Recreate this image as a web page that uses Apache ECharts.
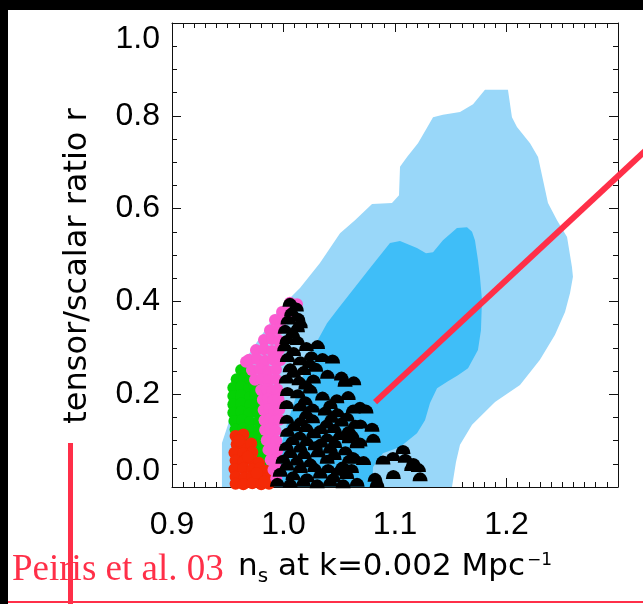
<!DOCTYPE html>
<html>
<head>
<meta charset="utf-8">
<script src="https://cdn.jsdelivr.net/npm/echarts@6/dist/echarts.min.js"></script>
<style>
  html, body { margin: 0; padding: 0; background: #fff; }
  #chart { width: 643px; height: 604px; }
</style>
</head>
<body>
<div id="chart"></div>
<script>
// ---- data ----
const xTickLabels = ['0.9', '1.0', '1.1', '1.2'];
const yTickLabels = ['0.0', '0.2', '0.4', '0.6', '0.8', '1.0'];

// 95% region (light blue)
const outer95 = [
  [0.9448, 0.000], [0.9448, 0.095], [0.9502, 0.134], [0.9547, 0.188], [0.9592, 0.241],
  [0.9655, 0.274], [0.9744, 0.306], [0.9834, 0.338], [0.9924, 0.371], [1.0040, 0.403],
  [1.0148, 0.429], [1.0327, 0.483], [1.0507, 0.547], [1.0641, 0.575], [1.0794, 0.610],
  [1.0973, 0.612], [1.1036, 0.629], [1.1045, 0.690], [1.1108, 0.711], [1.1206, 0.741],
  [1.1287, 0.774], [1.1341, 0.797], [1.1430, 0.802], [1.1583, 0.808], [1.1700, 0.825],
  [1.1807, 0.856], [1.2013, 0.856], [1.2049, 0.797], [1.2094, 0.776], [1.2211, 0.741],
  [1.2283, 0.711], [1.2327, 0.662], [1.2372, 0.612], [1.2453, 0.575], [1.2543, 0.539],
  [1.2587, 0.474], [1.2596, 0.453], [1.2570, 0.418], [1.2525, 0.377], [1.2435, 0.328],
  [1.2300, 0.274], [1.2121, 0.220], [1.1897, 0.183], [1.1691, 0.134], [1.1583, 0.091],
  [1.1547, 0.054], [1.1511, 0.000]
];

// 68% region (darker blue)
const inner68 = [
  [0.9924, 0.000], [0.9951, 0.058], [1.0013, 0.123], [1.0103, 0.188], [1.0193, 0.252],
  [1.0283, 0.306], [1.0390, 0.353], [1.0489, 0.384], [1.0623, 0.425], [1.0776, 0.472],
  [1.0955, 0.526], [1.1045, 0.530], [1.1197, 0.515], [1.1278, 0.504], [1.1341, 0.506],
  [1.1430, 0.532], [1.1556, 0.558], [1.1646, 0.560], [1.1691, 0.550], [1.1717, 0.532],
  [1.1744, 0.489], [1.1762, 0.453], [1.1780, 0.403], [1.1771, 0.338], [1.1744, 0.295],
  [1.1655, 0.256], [1.1565, 0.241], [1.1475, 0.228], [1.1377, 0.213], [1.1314, 0.181],
  [1.1269, 0.144], [1.1197, 0.116], [1.1045, 0.086], [1.0892, 0.073], [1.0803, 0.043],
  [1.0794, 0.000]
];

const redPts = [
  [0.957,0.110],[0.964,0.113],[0.958,0.092],[0.965,0.089],[0.971,0.094],[0.956,0.074],
  [0.964,0.072],[0.972,0.075],[0.957,0.057],[0.964,0.055],[0.972,0.058],[0.978,0.052],
  [0.956,0.039],[0.964,0.040],[0.972,0.038],[0.979,0.041],[0.984,0.035],[0.957,0.022],
  [0.965,0.020],[0.972,0.023],[0.979,0.021],[0.986,0.019],[0.957,0.007],[0.964,0.006],
  [0.972,0.008],[0.980,0.006],[0.987,0.007],[0.960,0.100],[0.968,0.065],[0.976,0.030],
  [0.983,0.012]
];

const greenPts = [
  [0.962,0.252],[0.967,0.248],
  [0.958,0.232],[0.965,0.234],[0.970,0.230],
  [0.955,0.214],[0.962,0.216],[0.969,0.212],[0.974,0.218],
  [0.955,0.196],[0.962,0.198],[0.970,0.194],[0.975,0.200],
  [0.955,0.178],[0.962,0.180],[0.970,0.176],[0.976,0.179],
  [0.955,0.160],[0.962,0.162],[0.969,0.158],[0.977,0.161],
  [0.956,0.142],[0.963,0.144],[0.970,0.140],[0.978,0.143],
  [0.957,0.124],[0.964,0.126],[0.971,0.122],[0.978,0.125],
  [0.969,0.106],[0.975,0.108],[0.981,0.104],
  [0.975,0.088],[0.982,0.090],
  [0.980,0.070],[0.986,0.072],
  [0.985,0.052],[0.989,0.054],
  [0.988,0.034],[0.992,0.036],
  [0.991,0.016]
];

const pinkPts = [
  [1.0058,0.397],[1.0121,0.394],
  [0.9987,0.377],[1.0058,0.379],
  [0.9924,0.360],[0.9996,0.362],
  [0.9879,0.338],[0.9951,0.340],
  [0.9825,0.317],[0.9897,0.319],[0.9960,0.315],
  [0.9753,0.295],[0.9825,0.297],[0.9897,0.293],[0.9960,0.296],
  [0.9664,0.270],[0.9691,0.274],[0.9762,0.276],[0.9834,0.272],[0.9906,0.275],[0.9969,0.273],
  [0.9717,0.252],[0.9789,0.254],[0.9861,0.250],[0.9933,0.253],
  [0.9745,0.231],[0.9805,0.233],[0.9866,0.229],[0.9933,0.232],
  [0.9800,0.209],[0.9850,0.211],[0.9900,0.207],[0.9945,0.210],
  [0.9815,0.188],[0.9860,0.190],[0.9905,0.186],[0.9955,0.189],
  [0.9822,0.166],[0.9870,0.168],[0.9915,0.164],[0.9962,0.167],
  [0.9830,0.144],[0.9875,0.146],[0.9920,0.142],[0.9962,0.145],
  [0.9835,0.123],[0.9880,0.125],[0.9928,0.121],
  [0.9850,0.101],[0.9895,0.103],[0.9936,0.099],
  [0.9865,0.080],[0.9905,0.082],[0.9944,0.078],
  [0.9885,0.058],[0.9935,0.060],
  [0.9910,0.037],[0.9944,0.039],
  [0.9935,0.019]
];

const blackPts = [
  [1.0058,0.398],[1.0115,0.388],[1.0072,0.377],[1.0130,0.366],[1.0040,0.360],[1.0150,0.352],
  [1.0015,0.340],[1.0082,0.330],[1.0030,0.318],[1.0125,0.316],[1.0010,0.302],[1.0090,0.292],
  [1.0205,0.303],[1.0305,0.307],[1.0035,0.279],[1.0150,0.272],[1.0250,0.283],[1.0350,0.279],
  [1.0440,0.276],[1.0060,0.257],[1.0180,0.251],[1.0290,0.258],[1.0395,0.243],[1.0520,0.239],
  [1.0630,0.229],[1.0025,0.233],[1.0140,0.229],[1.0268,0.233],[1.0035,0.206],[1.0128,0.201],
  [1.0240,0.211],[1.0350,0.196],[1.0478,0.190],[1.0580,0.197],[1.0028,0.178],[1.0150,0.173],
  [1.0262,0.170],[1.0375,0.164],[1.0484,0.160],[1.0625,0.168],[1.0030,0.146],[1.0152,0.141],
  [1.0260,0.147],[1.0388,0.136],[1.0520,0.140],[1.0644,0.135],[1.0035,0.118],[1.0145,0.110],
  [1.0270,0.115],[1.0392,0.106],[1.0505,0.111],[1.0025,0.088],[1.0150,0.084],[1.0285,0.089],
  [1.0420,0.082],[1.0555,0.078],[1.0660,0.093],[0.9995,0.060],[1.0120,0.056],[1.0240,0.052],
  [1.0392,0.060],[1.0528,0.045],[1.0640,0.061],[0.9970,0.032],[1.0085,0.024],[1.0210,0.020],
  [1.0330,0.028],[1.0445,0.020],[1.0568,0.027],[0.9945,0.010],[1.0060,0.008],[1.0178,0.010],
  [1.0302,0.007],[1.0418,0.010],[1.0535,0.007],[1.0660,0.010],
  [1.0080,0.100],[1.0210,0.098],[1.0335,0.095],[1.0460,0.094],[1.0590,0.104],[1.0060,0.072],
  [1.0185,0.070],[1.0310,0.074],[1.0455,0.068],[1.0590,0.060],[1.0030,0.045],[1.0150,0.040],
  [1.0280,0.042],[1.0400,0.040],[1.0490,0.034],[1.0610,0.040],[1.0095,0.130],[1.0205,0.128],
  [1.0330,0.124],[1.0455,0.126],[1.0585,0.122],
  [1.0205,0.156],[1.0430,0.148],[1.0195,0.186],[1.0420,0.178],[1.0200,0.220],[1.0090,0.245],
  [1.0235,0.266],[1.0125,0.343],
  [1.0552,0.226],[1.0686,0.174],[1.0740,0.168],[1.0570,0.151],[1.0690,0.136],[1.0794,0.129],
  [1.0614,0.113],[1.0686,0.097],[1.0805,0.105],[1.0623,0.066],[1.0718,0.057],[1.0552,0.041],
  [1.0892,0.058],[1.0982,0.066],[1.1072,0.081],[1.1092,0.062],[1.1165,0.053],[1.1210,0.042],
  [1.1150,0.044],[1.1225,0.022],[1.0985,0.027],[1.0821,0.021],[1.0839,0.008]
];

// pointer line drawn from the plot towards the annotation
const peirisLine = [[1.0821, 0.183], [1.335, 0.748]];

// ---- chart ----
const RED = '#ff2f48';
const chart = echarts.init(document.getElementById('chart'), null, { renderer: 'canvas' });

function polygonSeries(pts, color) {
  return {
    type: 'custom',
    data: pts,
    encode: { x: 0, y: 1 },
    silent: true,
    clip: true,
    renderItem: function (params, api) {
      if (params.dataIndex !== 0) return null;
      return {
        type: 'polygon',
        shape: { points: pts.map(p => api.coord(p)) },
        style: { fill: color, stroke: null }
      };
    }
  };
}

const axisCommon = {
  type: 'value',
  axisLine: { show: true, onZero: false, lineStyle: { color: '#111', width: 1 } },
  axisTick: { show: true, inside: true, length: 9, lineStyle: { color: '#111', width: 1 } },
  minorTick: { show: true, length: 5, lineStyle: { color: '#111', width: 1 } },
  splitLine: { show: false },
  minorSplitLine: { show: false }
};

const option = {
  animation: false,
  backgroundColor: '#fff',
  grid: { left: 172, top: 23, width: 446, height: 464, outerBoundsMode: 'none', containLabel: false },
  xAxis: [
    Object.assign({}, axisCommon, {
      position: 'bottom', min: 0.9, max: 1.3, interval: 0.1,
      minorTick: Object.assign({}, axisCommon.minorTick, { splitNumber: 10 }),
      axisLabel: {
        show: true, margin: 22, color: '#000', fontFamily: 'Liberation Sans', fontSize: 32,
        showMinLabel: true, showMaxLabel: false,
        formatter: v => { const s = v.toFixed(1); return xTickLabels.indexOf(s) >= 0 ? s : ''; }
      },
      name: '{n|n}{s|s}{n| at k=0.002 Mpc}{p|\u22121}',
      nameLocation: 'middle',
      nameGap: 60,
      nameTextStyle: {
        color: '#000',
        rich: {
          n: { fontFamily: 'DejaVu Sans', fontSize: 31, lineHeight: 40, verticalAlign: 'middle', color: '#000' },
          s: { fontFamily: 'DejaVu Sans', fontSize: 20, lineHeight: 20, verticalAlign: 'bottom', color: '#000' },
          p: { fontFamily: 'DejaVu Sans', fontSize: 17, lineHeight: 17, verticalAlign: 'top', padding: [5, 0, 0, 2], color: '#000' }
        }
      }
    }),
    Object.assign({}, axisCommon, {
      position: 'top', min: 0.9, max: 1.3, interval: 0.1,
      minorTick: Object.assign({}, axisCommon.minorTick, { splitNumber: 10 }),
      axisLabel: { show: false }
    })
  ],
  yAxis: [
    Object.assign({}, axisCommon, {
      position: 'left', min: 0, max: 1.0, interval: 0.2,
      minorTick: Object.assign({}, axisCommon.minorTick, { splitNumber: 4 }),
      axisLabel: {
        show: true, margin: 12, color: '#000', fontFamily: 'Liberation Sans', fontSize: 32,
        showMinLabel: true, showMaxLabel: true,
        verticalAlignMinLabel: 'bottom', verticalAlignMaxLabel: 'top',
        formatter: v => { const s = v.toFixed(1); return yTickLabels.indexOf(s) >= 0 ? s : ''; }
      },
      name: 'tensor/scalar ratio r',
      nameLocation: 'middle',
      nameRotate: 90,
      nameGap: 78,
      nameTextStyle: { color: '#000', fontFamily: 'DejaVu Sans', fontSize: 32, padding: [0, 22, 0, 0] }
    }),
    Object.assign({}, axisCommon, {
      position: 'right', min: 0, max: 1.0, interval: 0.2,
      minorTick: Object.assign({}, axisCommon.minorTick, { splitNumber: 4 }),
      axisLabel: { show: false }
    })
  ],
  series: [
    polygonSeries(outer95, '#99d7f9'),
    polygonSeries(inner68, '#3fbef8'),
    {
      type: 'scatter', data: greenPts, symbol: 'circle', symbolSize: 12,
      itemStyle: { color: '#05d105', opacity: 1 }, silent: true, z: 3
    },
    {
      type: 'scatter', data: redPts, symbol: 'circle', symbolSize: 12,
      itemStyle: { color: '#f42a06', opacity: 1 }, silent: true, z: 3
    },
    {
      type: 'scatter', data: pinkPts, symbol: 'circle', symbolSize: 12,
      itemStyle: { color: '#fb5bd0', opacity: 1 }, silent: true, z: 3
    },
    {
      type: 'scatter', data: blackPts,
      symbol: 'path://M0,10 A10,10 0 0 1 20,10 Z', symbolSize: [15, 9],
      itemStyle: { color: '#000', opacity: 1 }, silent: true, z: 4
    },
    {
      type: 'custom', data: peirisLine, encode: { x: 0, y: 1 }, clip: false, silent: true, z: 10,
      renderItem: function (params, api) {
        if (params.dataIndex !== 0) return null;
        const a = api.coord(peirisLine[0]);
        const b = api.coord(peirisLine[1]);
        return {
          type: 'line',
          shape: { x1: a[0], y1: a[1], x2: b[0], y2: b[1] },
          style: { stroke: RED, lineWidth: 6, lineCap: 'butt' }
        };
      }
    }
  ],
  graphic: [
    { type: 'rect', shape: { x: 0, y: 0, width: 643, height: 10 }, style: { fill: '#000' }, silent: true },
    { type: 'rect', shape: { x: 0, y: 0, width: 8, height: 604 }, style: { fill: '#000' }, silent: true },
    { type: 'rect', shape: { x: 8, y: 601, width: 635, height: 2 }, style: { fill: RED }, silent: true },
    { type: 'rect', shape: { x: 68, y: 443, width: 5, height: 161 }, style: { fill: RED }, silent: true },
    {
      type: 'text', x: 12, y: 570, silent: true,
      style: { text: 'Peiris et al. 03', fill: RED, font: '37px "Liberation Serif"', verticalAlign: 'middle', align: 'left' }
    }
  ]
};
chart.setOption(option);
</script>
</body>
</html>
